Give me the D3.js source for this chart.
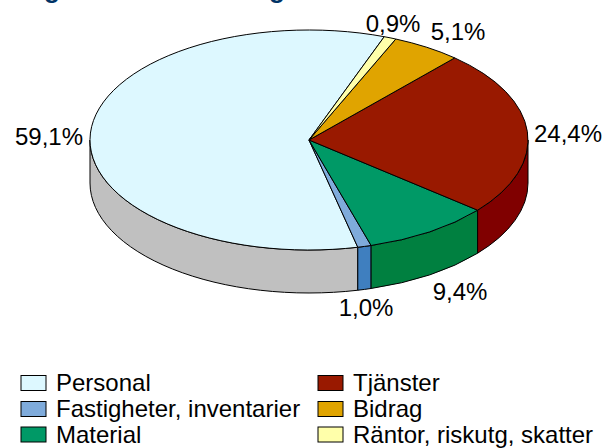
<!DOCTYPE html>
<html>
<head>
<meta charset="utf-8">
<script src="https://cdn.jsdelivr.net/npm/d3@7"></script>
<style>
  html, body { margin: 0; padding: 0; background: #fff; overflow: hidden; }
  text { font-family: "Liberation Sans", Arial, sans-serif; fill: #000; }
</style>
</head>
<body>
<div id="chart"></div>
<script>
// Values, in legend order
const categories = ['Personal', 'Fastigheter, inventarier', 'Material', 'Tjänster', 'Bidrag', 'Räntor, riskutg, skatter'];
const shares = [59.1, 1.0, 9.4, 24.4, 5.1, 0.9];
const shareLabels = ['59,1%', '1,0%', '9,4%', '24,4%', '5,1%', '0,9%'];
const topColors = ['#DDF8FF', '#7FABDB', '#009966', '#991900', '#E0A400', '#FFFFAA'];
const sideColors = ['#C0C0C0', '#3F7FBF', '#008040', '#800000', '#A87B00', '#BFBF80'];

const totalWidth = 610;
const totalHeight = 448;
const cx = 309, cy = 140, rx = 219, ry = 110, depth = 43;

const svg = d3.select('#chart')
    .append('svg')
    .attr('width', totalWidth)
    .attr('height', totalHeight);

// The title sits above the frame in the reference, only two descenders show
svg.append('g')
    .selectAll('text')
    .data([52, 277])
    .join('text')
    .attr('x', d => d)
    .attr('y', -2)
    .attr('text-anchor', 'middle')
    .style('font-size', '26px')
    .style('font-weight', 'bold')
    .style('fill', '#003366')
    .text('g');

// Slices run counter-clockwise from just right of twelve o'clock
const startDeg = 20.1;
const pie = d3.pie()
    .sort(null)
    .startAngle(startDeg * Math.PI / 180)
    .endAngle((startDeg - 360) * Math.PI / 180);
const slices = pie(shares).map((d, i) => ({
    i,
    a0: Math.min(d.startAngle, d.endAngle),
    a1: Math.max(d.startAngle, d.endAngle)
}));

const px = a => cx + rx * Math.sin(a);
const py = a => cy - ry * Math.cos(a);

// Top face wedge
function wedge(s) {
    const large = s.a1 - s.a0 > Math.PI ? 1 : 0;
    return `M${cx},${cy}L${px(s.a0)},${py(s.a0)}A${rx},${ry} 0 ${large} 1 ${px(s.a1)},${py(s.a1)}Z`;
}

// Side wall, only the part on the front half of the ellipse
function wall(a0, a1) {
    return `M${px(a0)},${py(a0)}A${rx},${ry} 0 0 1 ${px(a1)},${py(a1)}` +
        `L${px(a1)},${py(a1) + depth}A${rx},${ry} 0 0 0 ${px(a0)},${py(a0) + depth}Z`;
}

const walls = [];
slices.forEach(s => {
    // shift into 0..360 so the front half is PI/2..3PI/2
    const a0 = s.a0 < 0 ? s.a0 + Math.PI * 2 : s.a0;
    const a1 = a0 + (s.a1 - s.a0);
    const from = Math.max(a0, Math.PI / 2);
    const to = Math.min(a1, Math.PI * 3 / 2);
    if (to > from) walls.push({ i: s.i, from, to });
});

svg.append('g')
    .selectAll('path')
    .data(walls)
    .join('path')
    .attr('d', d => wall(d.from, d.to))
    .attr('fill', d => sideColors[d.i])
    .attr('stroke', '#000')
    .attr('stroke-width', 1)
    .attr('stroke-linejoin', 'round');

svg.append('g')
    .selectAll('path')
    .data(slices)
    .join('path')
    .attr('d', wedge)
    .attr('fill', d => topColors[d.i])
    .attr('stroke', '#000')
    .attr('stroke-width', 1)
    .attr('stroke-linejoin', 'round');

// Data labels
const labelAnchors = [[49, 137], [366, 308], [460, 292], [568, 134], [458, 32], [393, 24]];
svg.append('g')
    .selectAll('text')
    .data(shareLabels)
    .join('text')
    .attr('x', (d, i) => labelAnchors[i][0])
    .attr('y', (d, i) => labelAnchors[i][1])
    .attr('dy', '.35em')
    .attr('text-anchor', 'middle')
    .style('font-size', '24px')
    .text(d => d);

// Legend, two columns of three
const legendX = [21, 318];
const legendY = [383, 409, 434.5];
const legend = svg.append('g')
    .selectAll('g')
    .data(categories)
    .join('g')
    .attr('transform', (d, i) => `translate(${legendX[Math.floor(i / 3)]},${legendY[i % 3]})`);

legend.append('rect')
    .attr('x', 0)
    .attr('y', -7.5)
    .attr('width', 25)
    .attr('height', 15)
    .attr('fill', (d, i) => topColors[i])
    .attr('stroke', '#000')
    .attr('stroke-width', 1);

legend.append('text')
    .attr('x', 35)
    .attr('y', 0)
    .attr('dy', '.35em')
    .style('font-size', '24px')
    .text(d => d);
</script>
</body>
</html>
